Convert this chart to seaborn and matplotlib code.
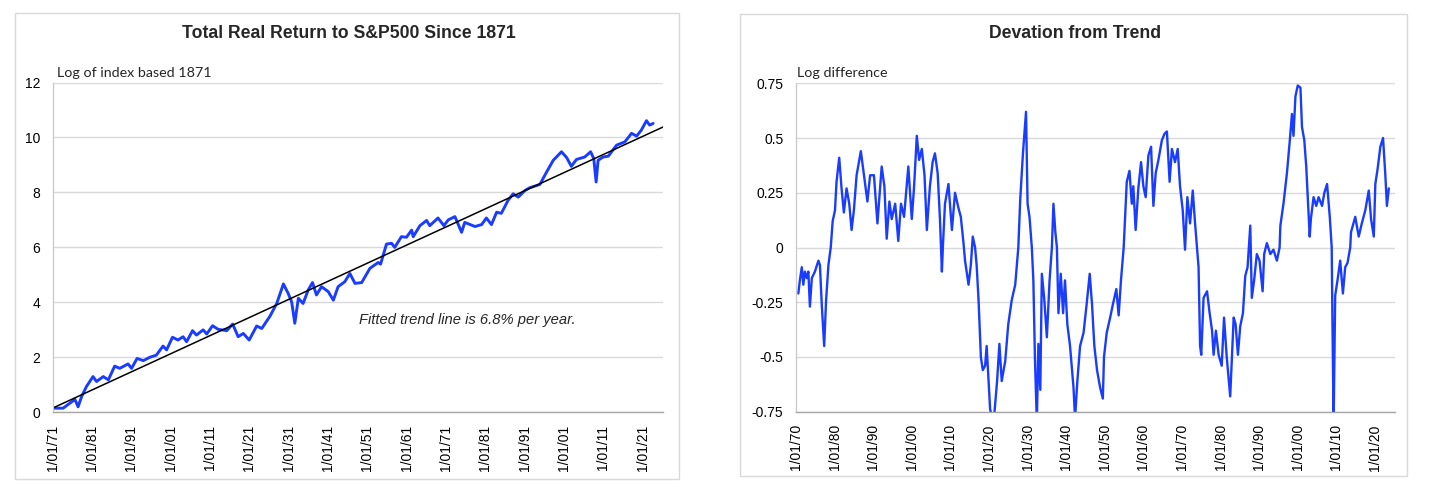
import matplotlib
matplotlib.use("Agg")
import matplotlib.pyplot as plt
import seaborn as sns
from matplotlib.patches import Rectangle

# ---- left panel: log of real total return index (1871 = 0)
index_years = [1871.0, 1873.7, 1875.4, 1876.7, 1877.5, 1878.4, 1879.6, 1881.3, 1882.2, 1883.9,
               1885.2, 1886.8, 1888.1, 1890.2, 1891.1, 1892.5, 1894.1, 1895.7, 1897.4, 1899.1,
               1900.0, 1901.5, 1902.9, 1904.2, 1905.1, 1906.6, 1907.6, 1909.3, 1910.2, 1911.7,
               1913.1, 1915.3, 1916.8, 1918.2, 1919.5, 1921.0, 1922.9, 1924.2, 1926.3, 1928.0,
               1929.7, 1930.9, 1931.8, 1932.6, 1933.5, 1934.7, 1936.0, 1937.1, 1938.1, 1939.4,
               1941.1, 1942.4, 1943.6, 1945.3, 1946.6, 1947.9, 1949.6, 1951.7, 1953.8, 1954.4,
               1955.9, 1957.2, 1958.0, 1959.7, 1961.0, 1962.3, 1962.7, 1964.4, 1966.1, 1966.9,
               1969.0, 1970.5, 1971.6, 1973.3, 1975.0, 1975.8, 1978.4, 1980.1, 1981.3, 1982.6,
               1983.9, 1985.1, 1986.8, 1988.1, 1989.4, 1991.1, 1992.3, 1994.9, 1996.6, 1998.3,
               2000.4, 2001.7, 2002.9, 2004.2, 2006.3, 2007.8, 2008.6, 2009.2, 2009.7, 2011.0,
               2012.3, 2014.4, 2016.5, 2018.2, 2019.5, 2020.7, 2022.0, 2022.8, 2023.7]
index_values = [0.15, 0.15, 0.33, 0.47, 0.20, 0.57, 0.93, 1.30, 1.12, 1.30,
                1.18, 1.68, 1.60, 1.76, 1.60, 1.96, 1.88, 2.00, 2.08, 2.41,
                2.27, 2.73, 2.63, 2.75, 2.57, 2.97, 2.81, 3.00, 2.85, 3.15,
                3.02, 2.97, 3.21, 2.75, 2.87, 2.63, 3.14, 3.05, 3.50, 3.96,
                4.67, 4.33, 4.02, 3.24, 4.15, 3.96, 4.45, 4.72, 4.27, 4.57,
                4.39, 4.08, 4.57, 4.75, 5.05, 4.69, 4.72, 5.24, 5.45, 5.39,
                6.12, 6.15, 6.00, 6.39, 6.37, 6.63, 6.39, 6.79, 6.98, 6.79,
                7.07, 6.79, 7.00, 7.12, 6.55, 6.91, 6.76, 6.83, 7.07, 6.83,
                7.28, 7.24, 7.71, 7.95, 7.83, 8.07, 8.17, 8.29, 8.74, 9.17,
                9.48, 9.27, 8.95, 9.20, 9.29, 9.48, 9.23, 8.38, 9.17, 9.29,
                9.32, 9.72, 9.84, 10.15, 10.05, 10.27, 10.61, 10.45, 10.51]
trend_years = [1871.0, 2026.2]
trend_values = [0.15, 10.38]

left_tick_years = [1871, 1881, 1891, 1901, 1911, 1921, 1931, 1941, 1951, 1961,
                   1971, 1981, 1991, 2001, 2011, 2021]
left_tick_labels = ["1/01/71", "1/01/81", "1/01/91", "1/01/01", "1/01/11", "1/01/21",
                    "1/01/31", "1/01/41", "1/01/51", "1/01/61", "1/01/71", "1/01/81",
                    "1/01/91", "1/01/01", "1/01/11", "1/01/21"]
left_y_ticks = [0, 2, 4, 6, 8, 10, 12]
left_y_labels = ["0", "2", "4", "6", "8", "10", "12"]

# ---- right panel: deviation of log index from the fitted trend
dev_years = [1870.6, 1871.0, 1871.5, 1871.9, 1872.3, 1872.8, 1873.2, 1873.6, 1874.1, 1874.9,
             1875.8, 1876.2, 1876.7, 1877.3, 1877.8, 1878.4, 1879.0, 1879.5, 1880.1, 1880.5,
             1881.2, 1881.8, 1882.4, 1883.1, 1883.8, 1884.4, 1885.0, 1885.7, 1886.8, 1887.6,
             1888.5, 1889.2, 1890.2, 1891.1, 1892.2, 1892.9, 1893.5, 1894.2, 1894.8, 1895.7,
             1896.5, 1897.2, 1898.0, 1899.1, 1900.0, 1900.6, 1901.3, 1901.9, 1902.6, 1903.3,
             1903.9, 1904.7, 1905.4, 1906.0, 1906.7, 1907.3, 1907.8, 1908.1, 1908.6, 1909.5,
             1910.4, 1911.2, 1912.1, 1912.7, 1913.4, 1913.8, 1914.7, 1915.3, 1915.8, 1916.4,
             1916.8, 1917.3, 1917.9, 1918.4, 1919.0, 1919.4, 1919.9, 1920.3, 1921.2, 1922.1,
             1922.7, 1923.3, 1924.2, 1925.0, 1925.9, 1926.8, 1927.6, 1928.1, 1928.8, 1929.4,
             1929.6, 1930.0, 1930.5, 1931.1, 1931.5, 1931.9, 1932.4, 1932.8, 1933.3, 1933.7,
             1934.3, 1935.0, 1935.7, 1936.3, 1936.7, 1937.2, 1937.6, 1938.0, 1938.6, 1939.2,
             1939.7, 1940.3, 1941.0, 1941.9, 1942.3, 1942.9, 1943.6, 1944.5, 1945.3, 1946.1,
             1946.7, 1947.3, 1948.0, 1948.8, 1949.5, 1949.8, 1950.5, 1951.4, 1952.1, 1953.0,
             1953.6, 1954.2, 1954.9, 1955.7, 1956.4, 1957.0, 1957.4, 1958.0, 1958.7, 1959.4,
             1960.0, 1960.6, 1961.3, 1962.0, 1962.6, 1963.2, 1963.9, 1964.8, 1965.5, 1966.1,
             1966.8, 1967.4, 1968.2, 1968.9, 1969.5, 1970.2, 1970.8, 1971.4, 1972.1, 1972.8,
             1973.4, 1973.9, 1974.3, 1974.7, 1975.0, 1975.6, 1976.5, 1977.1, 1977.8, 1978.2,
             1978.8, 1979.5, 1980.3, 1980.9, 1981.6, 1982.5, 1983.4, 1983.9, 1984.5, 1985.1,
             1985.8, 1986.4, 1987.0, 1987.7, 1988.1, 1988.7, 1989.4, 1990.1, 1990.9, 1991.3,
             1992.0, 1992.9, 1993.7, 1994.6, 1995.3, 1995.5, 1996.3, 1997.2, 1997.9, 1998.5,
             1998.9, 1999.4, 2000.0, 2000.7, 2001.1, 2001.7, 2002.2, 2002.6, 2003.1, 2003.4,
             2004.1, 2004.8, 2005.4, 2006.3, 2006.9, 2007.6, 2008.3, 2008.8, 2009.0, 2009.3,
             2009.7, 2010.3, 2011.0, 2011.7, 2012.3, 2012.9, 2013.6, 2013.8, 2014.9, 2015.8,
             2016.6, 2017.5, 2018.4, 2019.0, 2019.7, 2020.1, 2020.7, 2021.4, 2022.1, 2022.7,
             2023.1, 2023.6]
dev_values = [-0.21, -0.15, -0.09, -0.17, -0.11, -0.14, -0.11, -0.27, -0.14, -0.11,
              -0.06, -0.08, -0.27, -0.45, -0.24, -0.08, 0.00, 0.12, 0.17, 0.30,
              0.41, 0.27, 0.16, 0.27, 0.20, 0.08, 0.17, 0.33, 0.44, 0.33,
              0.21, 0.33, 0.33, 0.11, 0.37, 0.28, 0.04, 0.21, 0.13, 0.20,
              0.03, 0.20, 0.14, 0.37, 0.13, 0.28, 0.51, 0.40, 0.45, 0.33,
              0.08, 0.28, 0.39, 0.43, 0.34, 0.13, -0.11, 0.02, 0.20, 0.29,
              0.08, 0.25, 0.18, 0.14, 0.02, -0.06, -0.17, -0.08, 0.05, 0.00,
              -0.08, -0.24, -0.50, -0.56, -0.54, -0.45, -0.61, -0.74, -0.80, -0.61,
              -0.44, -0.61, -0.52, -0.35, -0.24, -0.17, 0.00, 0.22, 0.43, 0.57,
              0.62, 0.20, 0.14, 0.00, -0.15, -0.50, -0.80, -0.44, -0.65, -0.12,
              -0.23, -0.41, -0.15, 0.00, 0.20, 0.07, 0.00, -0.30, -0.12, -0.30,
              -0.15, -0.35, -0.45, -0.64, -0.78, -0.61, -0.45, -0.39, -0.26, -0.12,
              -0.26, -0.45, -0.56, -0.64, -0.69, -0.50, -0.39, -0.32, -0.26, -0.19,
              -0.31, -0.15, 0.00, 0.30, 0.35, 0.20, 0.28, 0.08, 0.27, 0.39,
              0.28, 0.23, 0.42, 0.46, 0.19, 0.34, 0.40, 0.49, 0.52, 0.53,
              0.30, 0.45, 0.39, 0.45, 0.28, 0.17, -0.01, 0.23, 0.11, 0.26,
              0.11, 0.00, -0.09, -0.45, -0.49, -0.23, -0.20, -0.29, -0.38, -0.49,
              -0.38, -0.49, -0.54, -0.32, -0.50, -0.68, -0.32, -0.35, -0.49, -0.36,
              -0.30, -0.13, -0.09, 0.10, -0.23, -0.15, -0.03, -0.06, -0.20, -0.03,
              0.02, -0.03, -0.01, -0.06, 0.00, 0.10, 0.20, 0.34, 0.48, 0.61,
              0.51, 0.69, 0.74, 0.73, 0.55, 0.49, 0.37, 0.23, 0.05, 0.13,
              0.23, 0.19, 0.23, 0.19, 0.25, 0.29, 0.14, 0.00, -0.35, -0.80,
              -0.22, -0.15, -0.06, -0.21, -0.09, -0.07, 0.00, 0.07, 0.14, 0.05,
              0.11, 0.17, 0.26, 0.13, 0.05, 0.29, 0.36, 0.46, 0.50, 0.33,
              0.19, 0.27]

right_tick_years = [1870, 1880, 1890, 1900, 1910, 1920, 1930, 1940, 1950, 1960,
                    1970, 1980, 1990, 2000, 2010, 2020]
right_tick_labels = ["1/01/70", "1/01/80", "1/01/90", "1/01/00", "1/01/10", "1/01/20",
                     "1/01/30", "1/01/40", "1/01/50", "1/01/60", "1/01/70", "1/01/80",
                     "1/01/90", "1/01/00", "1/01/10", "1/01/20"]
right_y_ticks = [-0.75, -0.5, -0.25, 0, 0.25, 0.5, 0.75]
right_y_labels = ["-0.75", "-0.5", "-0.25", "0", "0.25", "0.5", "0.75"]

W, H = 1431, 495
LINE_BLUE = "#1a3cff"
GRID = "#d9d9d9"

sns.set_style("white")
plt.rcParams['font.family'] = ['Liberation Sans', 'DejaVu Sans']

fig = plt.figure(figsize=(W / 100, H / 100), dpi=100)


def px_box(x0, y0, x1, y1):
    # pixel box (top-left origin) -> figure fraction [left, bottom, width, height]
    return [x0 / W, 1 - y1 / H, (x1 - x0) / W, (y1 - y0) / H]


def style_axes(ax, ticks, labels, yticks, ylabels):
    ax.set_xticks(ticks)
    ax.set_xticklabels(labels, rotation=90, fontsize=10)
    ax.set_yticks(yticks)
    ax.set_yticklabels(ylabels, fontsize=10)
    ax.yaxis.grid(True, color=GRID, lw=1.0)
    ax.xaxis.grid(False)
    ax.set_axisbelow(True)
    for side in ["top", "right"]:
        ax.spines[side].set_visible(False)
    ax.spines["left"].set_color("#c8c8c8")
    ax.spines["left"].set_linewidth(0.9)
    ax.spines["bottom"].set_color("#a6a6a6")
    ax.spines["bottom"].set_linewidth(1.0)
    ax.tick_params(axis="x", direction="out", length=4, width=0.9, color="#a6a6a6",
                   pad=5, labelcolor="black")
    ax.tick_params(axis="y", length=0, pad=9, labelcolor="black")
    ax.set_xlabel("")
    ax.set_ylabel("")


# outer chart frames
for box in [(15, 13, 679, 479), (740, 14, 1407, 476)]:
    x0, y0, x1, y1 = box
    fig.add_artist(Rectangle((x0 / W, 1 - y1 / H), (x1 - x0) / W, (y1 - y0) / H,
                             transform=fig.transFigure, fill=False, ec=GRID, lw=1.0))

# left chart
ax1 = fig.add_axes(px_box(52.5, 82.5, 663, 412.3))
sns.lineplot(x=index_years, y=index_values, ax=ax1, color=LINE_BLUE, lw=2.1,
             estimator=None, sort=False)
sns.lineplot(x=trend_years, y=trend_values, ax=ax1, color="black", lw=1.1,
             estimator=None, sort=False)
ax1.set_xlim(1871, 2026.2)
ax1.set_ylim(0, 12)
style_axes(ax1, left_tick_years, left_tick_labels, left_y_ticks, left_y_labels)
ax1.text(1949, 3.36, "Fitted trend line is 6.8% per year.", fontsize=10.6,
         style="italic", ha="left", va="center")
fig.text(349 / W, 1 - 34 / H, "Total Real Return to S&P500 Since 1871",
         fontsize=12.7, fontweight="bold", ha="center", va="center")
fig.text(57 / W, 1 - 73 / H, "Log of index based 1871", fontsize=10.3,
         family=["Lato", "DejaVu Sans"], ha="left", va="center")

# right chart
ax2 = fig.add_axes(px_box(796, 83.3, 1395, 411.7))
sns.lineplot(x=dev_years, y=dev_values, ax=ax2, color=LINE_BLUE, lw=1.7,
             estimator=None, sort=False)
ax2.set_xlim(1870, 2025.2)
ax2.set_ylim(-0.75, 0.75)
style_axes(ax2, right_tick_years, right_tick_labels, right_y_ticks, right_y_labels)
fig.text(1075 / W, 1 - 34 / H, "Devation from Trend",
         fontsize=12.7, fontweight="bold", ha="center", va="center")
fig.text(797 / W, 1 - 73 / H, "Log difference", fontsize=10.3,
         family=["Lato", "DejaVu Sans"], ha="left", va="center")

for line in ax1.lines + ax2.lines:
    line.set_solid_joinstyle("round")

fig.savefig("out.png", dpi=100)
